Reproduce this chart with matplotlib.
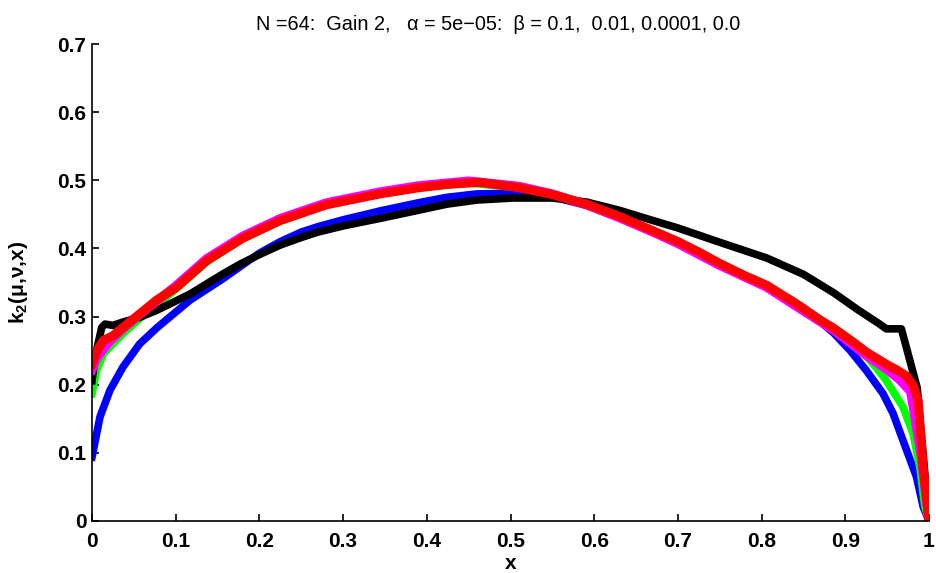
import matplotlib
matplotlib.use("Agg")
import matplotlib.pyplot as plt

plt.rcParams['font.family'] = ['Liberation Sans', 'DejaVu Sans']
plt.rcParams['mathtext.fontset'] = 'custom'
plt.rcParams['mathtext.rm'] = 'Liberation Sans:bold'
plt.rcParams['mathtext.it'] = 'Liberation Sans:bold'

# ---- data ----
blue_x = [0, 0.0096, 0.0215, 0.037, 0.057, 0.078, 0.117, 0.157, 0.18, 0.2, 0.225, 0.25, 0.27, 0.3, 0.344,
          0.39, 0.424, 0.46, 0.503, 0.55, 0.591, 0.63, 0.67, 0.7, 0.726, 0.75, 0.78, 0.806, 0.85, 0.886,
          0.906, 0.925, 0.945, 0.957, 0.969, 0.985, 0.993, 1.0]
blue_y = [0.094, 0.153, 0.192, 0.226, 0.26, 0.284, 0.324, 0.356, 0.376, 0.393, 0.41, 0.424, 0.432, 0.442, 0.455,
          0.467, 0.475, 0.48, 0.481, 0.476, 0.463, 0.445, 0.424, 0.408, 0.392, 0.377, 0.36, 0.344, 0.313, 0.276,
          0.25, 0.221, 0.187, 0.158, 0.118, 0.065, 0.021, 0.0]

green_x = [0, 0.0056, 0.0135, 0.025, 0.037, 0.057, 0.1, 0.137, 0.18, 0.225, 0.28, 0.344, 0.39, 0.45, 0.511,
           0.55, 0.591, 0.63, 0.67, 0.7, 0.75, 0.806, 0.84, 0.886, 0.925, 0.937, 0.949, 0.969, 0.981, 0.989,
           0.995, 1.0]
green_y = [0.187, 0.221, 0.245, 0.26, 0.275, 0.297, 0.34, 0.38, 0.414, 0.44, 0.464, 0.48, 0.489, 0.496, 0.489,
           0.478, 0.464, 0.445, 0.425, 0.408, 0.376, 0.344, 0.317, 0.28, 0.242, 0.225, 0.206, 0.167, 0.128, 0.079,
           0.021, 0.0]

black_x = [0, 0.0036, 0.0116, 0.0155, 0.025, 0.037, 0.057, 0.077, 0.117, 0.157, 0.177, 0.2, 0.225, 0.25, 0.27,
           0.3, 0.344, 0.39, 0.424, 0.46, 0.503, 0.55, 0.591, 0.63, 0.67, 0.7, 0.75, 0.806, 0.85, 0.886, 0.915,
           0.941, 0.949, 0.967, 0.986, 1.0]
black_y = [0.206, 0.24, 0.284, 0.289, 0.287, 0.292, 0.299, 0.309, 0.333, 0.363, 0.377, 0.391, 0.405, 0.416, 0.424,
           0.433, 0.444, 0.456, 0.465, 0.471, 0.474, 0.474, 0.468, 0.456, 0.441, 0.43, 0.409, 0.386, 0.362, 0.335, 0.31,
           0.289, 0.282, 0.282, 0.195, 0.0]

magenta_x = [0, 0.006, 0.02, 0.037, 0.057, 0.1, 0.137, 0.18, 0.225, 0.28, 0.344, 0.39, 0.45, 0.511, 0.55, 0.591,
             0.63, 0.67, 0.7, 0.75, 0.806, 0.84, 0.886, 0.925, 0.949, 0.965, 0.978, 0.99, 1.0]
magenta_y = [0.222, 0.24, 0.262, 0.282, 0.303, 0.345, 0.385, 0.418, 0.444, 0.467, 0.483, 0.492, 0.499, 0.491, 0.48,
             0.464, 0.445, 0.424, 0.407, 0.375, 0.343, 0.316, 0.28, 0.243, 0.223, 0.207, 0.19, 0.10, 0.0]

red_x = [0, 0.006, 0.0135, 0.025, 0.037, 0.057, 0.077, 0.101, 0.137, 0.18, 0.225, 0.28, 0.344, 0.39, 0.424,
         0.463, 0.511, 0.55, 0.591, 0.63, 0.67, 0.7, 0.726, 0.75, 0.78, 0.806, 0.84, 0.87, 0.886, 0.91, 0.925,
         0.949, 0.961, 0.973, 0.981, 0.987, 0.993, 1.0]
red_y = [0.231, 0.25, 0.265, 0.272, 0.284, 0.304, 0.324, 0.343, 0.382, 0.415, 0.441, 0.464, 0.48, 0.489, 0.494,
         0.497, 0.489, 0.479, 0.465, 0.447, 0.426, 0.41, 0.394, 0.378, 0.36, 0.346, 0.32, 0.295, 0.283, 0.262, 0.248,
         0.23, 0.222, 0.213, 0.199, 0.177, 0.079, 0.0]

x_ticks = [0, 0.1, 0.2, 0.3, 0.4, 0.5, 0.6, 0.7, 0.8, 0.9, 1]
x_ticklabels = ['0', '0.1', '0.2', '0.3', '0.4', '0.5', '0.6', '0.7', '0.8', '0.9', '1']
y_ticks = [0, 0.1, 0.2, 0.3, 0.4, 0.5, 0.6, 0.7]
y_ticklabels = ['0', '0.1', '0.2', '0.3', '0.4', '0.5', '0.6', '0.7']

title = 'N =64:  Gain 2,   \u03b1 = 5e\u221205:  \u03b2 = 0.1,  0.01, 0.0001, 0.0'
ylabel = 'k$_{\\mathrm{2}}$(\u03bc,\u03bd,x)'

fig = plt.figure(figsize=(9.36, 5.73), dpi=100)
ax = fig.add_axes([92/936, 1 - 521/573, (929 - 92)/936, (521 - 44)/573])

ax.plot(blue_x, blue_y, color=(0, 0, 1), lw=5.5)
ax.plot(green_x, green_y, color=(0, 1, 0), lw=5.5)
ax.plot(black_x, black_y, color='black', lw=5.5)
ax.plot(magenta_x, magenta_y, color=(1, 0, 1), lw=6.5)
ax.plot(red_x, red_y, color=(1, 0, 0), lw=6.5)

ax.set_xlim(0, 1)
ax.set_ylim(0, 0.7)
ax.set_xticks(x_ticks)
ax.set_xticklabels(x_ticklabels)
ax.set_yticks(y_ticks)
ax.set_yticklabels(y_ticklabels)
ax.spines['top'].set_visible(False)
ax.spines['right'].set_visible(False)
for s in ('left', 'bottom'):
    ax.spines[s].set_linewidth(1.2)
ax.tick_params(direction='in', length=5, width=1.2, labelsize=15)
ax.tick_params(axis='x', pad=8)
ax.tick_params(axis='y', pad=4)
for lab in ax.get_xticklabels() + ax.get_yticklabels():
    lab.set_fontweight('bold')

ax.set_xlabel('x', fontsize=15, fontweight='bold', labelpad=2)
ax.set_ylabel(ylabel, fontsize=15, fontweight='bold', labelpad=20)
ax.set_title(title, fontsize=14.3, pad=10, x=0.485)

fig.savefig('out.png', dpi=100)
